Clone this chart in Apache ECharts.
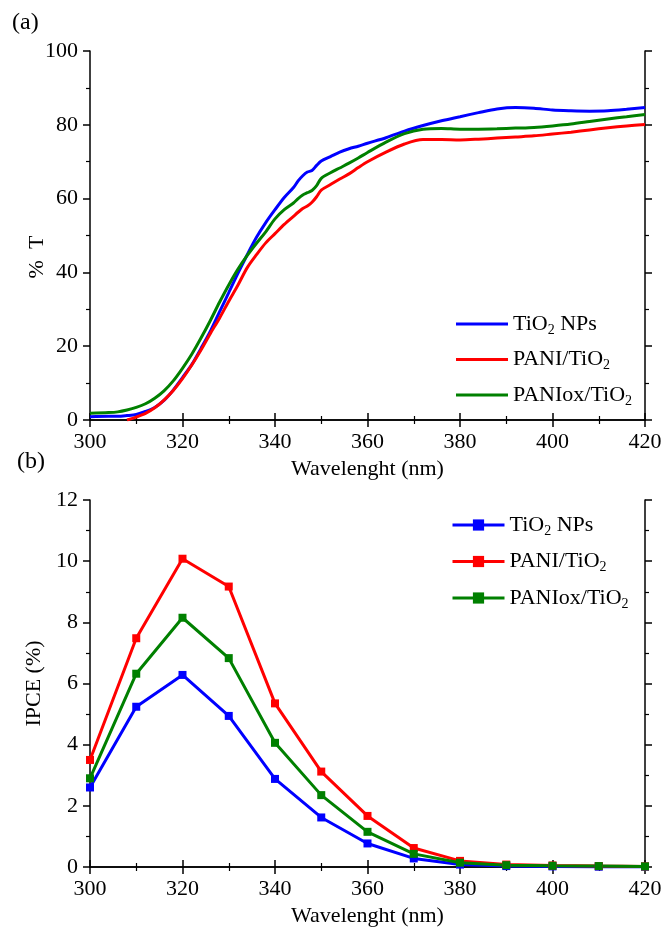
<!DOCTYPE html>
<html>
<head>
<meta charset="utf-8">
<script src="https://cdn.jsdelivr.net/npm/echarts@6/dist/echarts.min.js"></script>
<style>
html,body{margin:0;padding:0;background:#fff;}
#chart{width:665px;height:928px;}
</style>
</head>
<body>
<div id="chart"></div>
<script>
// ---------- Panel (a): transmittance ----------
const wavelengthT = [300,304,306,308,310,312,314,316,318,320,322,324,326,328,330,332,334,336,338,340,342,344,345,346,347,348,349,350,352,354,356,358,360,364,368,372,376,380,384,388,392,396,400,404,408,412,416,420];
const tio2T = [0.9,1.0,1.0,1.2, 1.5,2.3,3.4,5.3,8.1,11.5,15.0,19.4,24.0,29.3,34.5,39.8,44.8,49.5,53.5,57.0,60.3,63.0, 64.8,66.2,67.2,67.6,69.0, 70.2,71.4,72.6,73.5,74.2,75.0, 76.5,78.3,79.8,81.1,82.2,83.3,84.3,84.7,84.5,84.0,83.8,83.7,83.8,84.2,84.7];
const paniT = [null,null,null,0.0, 0.8,1.8,3.3,5.4,8.0,11.2,14.9,19.0,23.4,27.6,32.2,36.6,41.3,44.8,48.0,50.5,53.0,55.2, 56.3,57.3,58.0,59.0,60.5, 62.3,63.8,65.3,66.7,68.4,70.0, 72.6,74.8,76.0,76.0,75.9,76.1,76.4,76.7,77.0,77.5,78.0,78.6,79.2,79.7,80.1];
const paniOxT = [1.8,2.0,2.2,2.7, 3.4,4.4,5.9,7.9,10.6,14.0,17.8,22.2,26.9,31.9,36.6,40.9,44.6,47.9,51.0,54.5,57.0,58.8, 60.0,61.0,61.6,62.2,63.5, 65.5,67.0,68.3,69.6,71.0,72.5, 75.3,77.6,78.8,79.0,78.8,78.8,78.9,79.1,79.3,79.7,80.2,80.9,81.6,82.2,82.8];

// ---------- Panel (b): IPCE ----------
const wavelengthI = [300,310,320,330,340,350,360,370,380,390,400,410,420];
const tio2I = [2.6,5.24,6.28,4.94,2.88,1.62,0.77,0.28,0.08,0.03,0.02,0.01,0.01];
const paniI = [3.5,7.48,10.08,9.17,5.35,3.12,1.67,0.62,0.2,0.08,0.05,0.03,0.02];
const paniOxI = [2.9,6.32,8.15,6.83,4.06,2.35,1.15,0.43,0.14,0.06,0.04,0.03,0.02];

const seriesNames = ['TiO2 NPs','PANI/TiO2','PANIox/TiO2'];
const legendLabels = {'TiO2 NPs':'TiO{sub|2} NPs','PANI/TiO2':'PANI/TiO{sub|2}','PANIox/TiO2':'PANIox/TiO{sub|2}'};
const colors = ['#0000ff','#ff0000','#008000'];

const FONT = '"Liberation Serif","Times New Roman",serif';

function pairs(xs, ys){
  const out=[];
  xs.forEach((x,i)=>{ if(ys[i]!==null && ys[i]!==undefined) out.push([x,ys[i]]); });
  return out;
}

const axisLineStyle = {show:true, lineStyle:{color:'#000', width:1.5}};
const tickStyle = {show:true, inside:false, length:7, lineStyle:{color:'#000', width:1.5}};
const minorStyle = {show:true, splitNumber:2, length:4, lineStyle:{color:'#000', width:1.2}};
const labelStyle = {color:'#000', fontFamily:FONT, fontSize:22};

function xAxisMain(gi){
  return {type:'value', gridIndex:gi, min:300, max:420, interval:20, position:'bottom',
    name:'Wavelenght (nm)', nameLocation:'middle', nameGap:38,
    nameTextStyle:{color:'#000', fontFamily:FONT, fontSize:22},
    axisLine:axisLineStyle, axisTick:tickStyle, minorTick:minorStyle,
    axisLabel:Object.assign({margin:11}, labelStyle), splitLine:{show:false}};
}
function xAxisMirror(gi){
  return {type:'value', gridIndex:gi, min:300, max:420, interval:20, position:'top',
    axisLine:axisLineStyle, axisTick:tickStyle, minorTick:minorStyle,
    axisLabel:{show:false}, splitLine:{show:false}};
}
function yAxisMain(gi, max, interval, name, gap){
  return {type:'value', gridIndex:gi, min:0, max:max, interval:interval, position:'left',
    name:name, nameLocation:'middle', nameGap:gap,
    nameTextStyle:{color:'#000', fontFamily:FONT, fontSize:22},
    axisLine:axisLineStyle, axisTick:tickStyle, minorTick:minorStyle,
    axisLabel:Object.assign({margin:12}, labelStyle), splitLine:{show:false}};
}
function yAxisMirror(gi, max, interval){
  return {type:'value', gridIndex:gi, min:0, max:max, interval:interval, position:'right',
    axisLine:axisLineStyle, axisTick:tickStyle, minorTick:minorStyle,
    axisLabel:{show:false}, splitLine:{show:false}};
}

const legendText = {
  color:'#000', fontFamily:FONT, fontSize:22, lineHeight:26,
  rich:{ sub:{fontSize:14, lineHeight:4, verticalAlign:'bottom', fontFamily:FONT, color:'#000'} }
};

const dataT = [tio2T, paniT, paniOxT];
const dataI = [tio2I, paniI, paniOxI];

const series = [];
seriesNames.forEach((n,i)=>{
  series.push({name:n, type:'line', xAxisIndex:0, yAxisIndex:0, data:pairs(wavelengthT, dataT[i]),
    symbol:'none', smooth:0.3, lineStyle:{color:colors[i], width:3}, itemStyle:{color:colors[i]}, animation:false, clip:true});
});
seriesNames.forEach((n,i)=>{
  series.push({name:n+' ', type:'line', xAxisIndex:2, yAxisIndex:2, data:pairs(wavelengthI, dataI[i]),
    symbol:'rect', symbolSize:8, showSymbol:true, lineStyle:{color:colors[i], width:3}, itemStyle:{color:colors[i]}, animation:false, clip:false});
});

const option = {
  backgroundColor:'#fff',
  animation:false,
  grid:[
    {left:90, top:51, width:555, height:369, containLabel:false},
    {left:90, top:500, width:555, height:370, containLabel:false}
  ],
  xAxis:[xAxisMain(0), xAxisMirror(0), xAxisMain(1), xAxisMirror(1)],
  yAxis:[yAxisMain(0,100,20,'',42), yAxisMirror(0,100,20), yAxisMain(1,12,2,'IPCE (%)',44), yAxisMirror(1,12,2)],
  legend:[
    {orient:'vertical', left:451, top:306, itemWidth:52, itemHeight:3, itemGap:9.5,
     data:seriesNames.map(n=>({name:n, icon:'rect'})), textStyle:legendText, formatter:n=>legendLabels[n], selectedMode:false},
    {orient:'vertical', left:446, top:507, itemWidth:52, itemHeight:14, itemGap:10.5,
     lineStyle:{width:3},
     data:seriesNames.map(n=>n+' '), textStyle:legendText, formatter:n=>legendLabels[n.trim()], selectedMode:false}
  ],
  graphic:[
    {type:'text', left:12, top:11, style:{text:'(a)', font:'24px '+FONT, fill:'#000'}},
    {type:'text', left:17, top:450, style:{text:'(b)', font:'24px '+FONT, fill:'#000'}},
    {type:'text', x:37, y:257, rotation:Math.PI/2, style:{text:'%  T', font:'22px '+FONT, fill:'#000', align:'center', verticalAlign:'middle'}}
  ],
  series:series
};

const chart = echarts.init(document.getElementById('chart'), null, {renderer:'canvas'});
chart.setOption(option);
</script>
</body>
</html>
